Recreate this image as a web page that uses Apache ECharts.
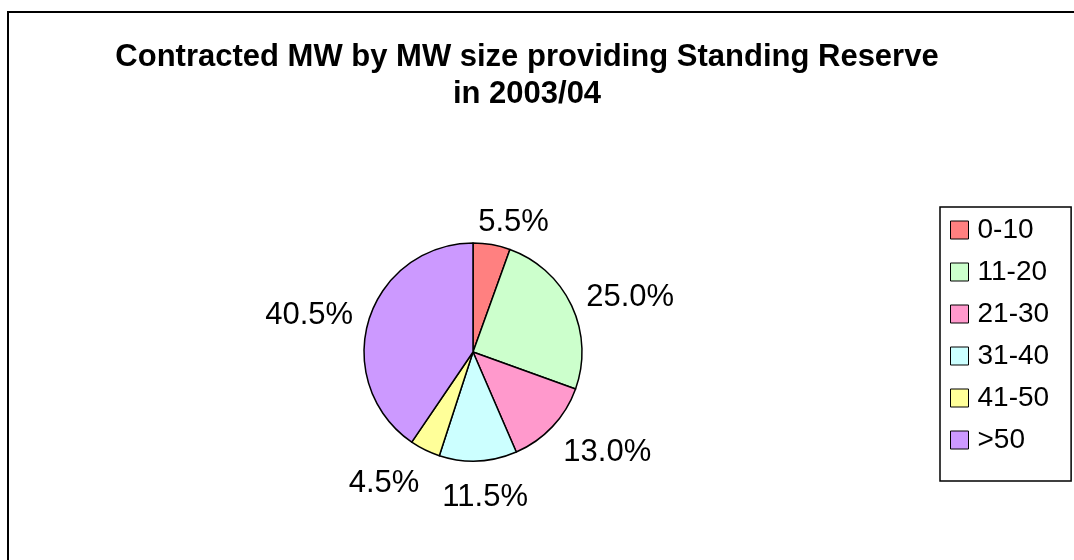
<!DOCTYPE html>
<html lang="en">
<head>
    <meta charset="UTF-8">
    <script src="https://cdn.jsdelivr.net/npm/echarts@6/dist/echarts.min.js"></script>
    <style>
        body, html {
            margin: 0;
            height: 100%;
            background: #fff;
        }

        #main {
            width: 1074px;
            height: 560px;
        }
    </style>
    <title>Contracted MW by MW size</title>
</head>
<body>

<div id="main"></div>
<script type="text/javascript">
    const myChart = echarts.init(document.getElementById('main'));

    // MW size bands and their share of contracted MW (%)
    const categories = ['0-10', '11-20', '21-30', '31-40', '41-50', '>50'];
    const shares = [5.5, 25.0, 13.0, 11.5, 4.5, 40.5];
    const colors = ['#FF8080', '#CCFFCC', '#FF99CC', '#CCFFFF', '#FFFF99', '#CC99FF'];

    const font = 'Liberation Sans, Arial, sans-serif';

    const pieData = categories.map(function (name, i) {
        return {name: name, value: shares[i], itemStyle: {color: colors[i]}};
    });

    const option = {
        animation: false,
        graphic: [{
            type: 'rect',
            shape: {x: 8, y: 12, width: 1100, height: 600},
            style: {fill: 'none', stroke: '#000', lineWidth: 2}
        }],
        title: {
            text: 'Contracted MW by MW size providing Standing Reserve\nin 2003/04',
            left: 527,
            textAlign: 'center',
            top: 39,
            padding: 0,
            textStyle: {
                fontFamily: font,
                fontSize: 31,
                fontWeight: 'bold',
                color: '#000',
                lineHeight: 37
            }
        },
        legend: {
            orient: 'vertical',
            left: 940,
            top: 207,
            padding: [8, 22, 26, 10],
            itemWidth: 18,
            itemHeight: 18,
            itemGap: 12,
            icon: 'rect',
            borderColor: '#000',
            borderWidth: 1.5,
            itemStyle: {borderColor: '#000', borderWidth: 1},
            textStyle: {fontFamily: font, fontSize: 28, color: '#000', lineHeight: 30, padding: [0, 0, 0, 4]},
            data: categories
        },
        series: [
            {
                type: 'pie',
                center: [473, 352],
                radius: 109,
                startAngle: 90,
                clockwise: true,
                data: pieData,
                itemStyle: {borderColor: '#000', borderWidth: 1.5},
                label: {
                    show: true,
                    position: 'outside',
                    fontFamily: font,
                    fontSize: 31,
                    color: '#000',
                    formatter: function (p) {
                        return p.percent.toFixed(1) + '%';
                    }
                },
                labelLine: {show: false},
                // put each label just outside its slice, along the slice's middle direction
                labelLayout: function (params) {
                    const lay = myChart.getModel().getSeriesByIndex(0).getData().getItemLayout(params.dataIndex);
                    const mid = (lay.startAngle + lay.endAngle) / 2;
                    const dx = Math.cos(mid), dy = Math.sin(mid);
                    const w = params.labelRect.width, h = params.labelRect.height * 0.8;
                    const gap = 21;
                    const ex = lay.cx + dx * lay.r, ey = lay.cy + dy * lay.r;
                    return {
                        x: ex + dx * gap + Math.sign(dx) * Math.min(0.9, 3 * Math.abs(dx)) * w / 2,
                        y: ey + dy * gap + dy * (dy > 0 ? 1.05 : 0.4) * h / 2 + 3,
                        align: 'center',
                        verticalAlign: 'middle'
                    };
                },
                emphasis: {disabled: true}
            }
        ]
    };
    myChart.setOption(option);

</script>
</body>
</html>
